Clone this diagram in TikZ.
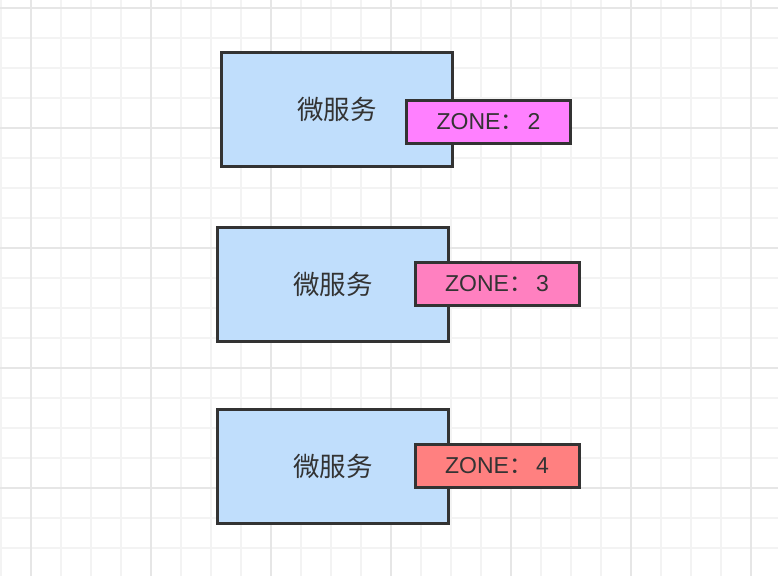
\documentclass[tikz,border=0pt]{standalone}
\usepackage{fontspec}
\setmainfont{Liberation Sans}
\newfontfamily\cjk{Noto Sans CJK SC}
\usetikzlibrary{positioning}
\definecolor{gridfine}{HTML}{F3F3F3}
\definecolor{gridbold}{HTML}{E6E6E6}
\definecolor{svcfill}{RGB}{192,222,252}
\definecolor{edge}{HTML}{333333}
\definecolor{zonea}{HTML}{FF80FF}
\definecolor{zoneb}{HTML}{FF80C0}
\definecolor{zonec}{HTML}{FF8080}

\begin{document}
\begin{tikzpicture}[x=1pt, y=-1pt,
    fine/.style={draw=gridfine, line width=2pt},
    bold/.style={draw=gridbold, line width=2pt},
    service/.style={draw=edge, line width=3pt, fill=svcfill,
        minimum width=231pt, minimum height=114pt, inner sep=0pt,
        text=edge, font=\cjk\fontsize{26.5}{30}\selectfont},
    zone/.style={draw=edge, line width=3pt,
        minimum width=164pt, minimum height=43pt, inner sep=0pt,
        text=edge, font=\fontsize{23}{27}\selectfont}]
    \useasboundingbox[fill=white] (0,0) rectangle (778,576);
    % background grid
    \foreach \k in {0,...,25}
        \draw[fine] ({1+30*\k},0) -- ({1+30*\k},576);
    \foreach \k in {0,...,18}
        \draw[fine] (0,{7.7+30*\k}) -- (778,{7.7+30*\k});
    \foreach \k in {1,5,...,25}
        \draw[bold] ({1+30*\k},0) -- ({1+30*\k},576);
    \foreach \k in {0,4,...,16}
        \draw[bold] (0,{7.7+30*\k}) -- (778,{7.7+30*\k});
    % services and their zones
    \node[service] (svc1) at (337,109.5) {微服务};
    \node[zone, fill=zonea] (zone1) at (488.5,122) {ZONE{\cjk：}\hspace{4pt}2};
    \node[service] (svc2) at (333,284) {微服务};
    \node[zone, fill=zoneb] (zone2) at (497,284) {ZONE{\cjk：}\hspace{4pt}3};
    \node[service] (svc3) at (333,466) {微服务};
    \node[zone, fill=zonec] (zone3) at (497,466) {ZONE{\cjk：}\hspace{4pt}4};
\end{tikzpicture}
\end{document}
